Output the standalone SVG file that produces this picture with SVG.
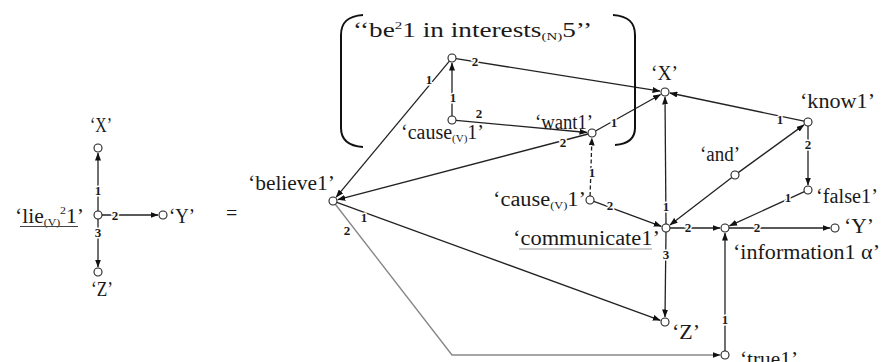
<svg xmlns="http://www.w3.org/2000/svg" width="892" height="362" viewBox="0 0 892 362">
<style>
text{font-family:"Liberation Serif","Times New Roman",serif;fill:#1a1a1a}
.t{font-size:20px}
.lb{font-size:13px;font-weight:bold;stroke:#fff;stroke-width:3px;paint-order:stroke;text-anchor:middle}
.e{stroke:#222;stroke-width:1.3;fill:none;marker-end:url(#ah)}
.g{stroke:#888;stroke-width:1.4;fill:none;marker-end:url(#ah)}
.n{fill:#fff;stroke:#222;stroke-width:1.1}
.br{fill:none;stroke:#111;stroke-width:2}
.sub{font-size:11px}
</style>
<defs>
<marker id="ah" markerUnits="userSpaceOnUse" markerWidth="8" markerHeight="6" refX="7.5" refY="3" orient="auto"><path d="M0,0 L8,3 L0,6 z" fill="#111"/></marker>
</defs>
<rect width="892" height="362" fill="#fff"/>

<g id="connectors">
<line class="e" x1="98" y1="211" x2="98" y2="153"/>
<line class="e" x1="102" y1="215" x2="158" y2="215"/>
<line class="e" x1="98" y1="219" x2="98" y2="267"/>

<line class="e" x1="456" y1="58.6" x2="660" y2="91.2"/>
<line class="e" x1="449.4" y1="61.1" x2="336.2" y2="197.2"/>
<line class="e" x1="452" y1="116" x2="452" y2="63"/>
<line class="e" x1="456" y1="120.4" x2="587" y2="132.5"/>
<line class="e" x1="595.5" y1="131" x2="660.6" y2="94.5"/>
<line class="e" x1="588.1" y1="134" x2="337.8" y2="199.7"/>
<line class="e" x1="590.1" y1="196" x2="591.9" y2="138" stroke-dasharray="4 2.5"/>
<line class="e" x1="593.8" y1="201.4" x2="661.3" y2="226.3"/>
<line class="e" x1="666" y1="224" x2="665" y2="97"/>
<line class="e" x1="804.1" y1="121.2" x2="669.9" y2="93"/>
<line class="e" x1="738.2" y1="172.6" x2="804" y2="124.9"/>
<line class="e" x1="731.8" y1="177.4" x2="670" y2="224.9"/>
<line class="e" x1="808" y1="126" x2="808" y2="185"/>
<line class="e" x1="804.4" y1="191.7" x2="729.5" y2="225.9"/>
<line class="e" x1="670" y1="228" x2="720" y2="228"/>
<line class="e" x1="729" y1="228" x2="830" y2="228"/>
<line class="e" x1="725" y1="351" x2="725" y2="233"/>
<line class="e" x1="666" y1="232" x2="665" y2="317"/>
<line class="e" x1="336.8" y1="202.4" x2="660.3" y2="320.3"/>
<polyline class="g" points="335.5,204.5 452,355 720,355"/>

<path class="br" d="M363,15 C348,16 341,22 341,35 L341,128 C341,140 348,146 363,147"/>
<path class="br" d="M613,15 C628,16 635,22 635,35 L635,128 C635,139 628,144 615,145"/>

<text class="lb" x="98" y="195">1</text>
<text class="lb" x="115" y="220">2</text>
<text class="lb" x="98" y="237">3</text>

<text class="lb" x="475" y="66">2</text>
<text class="lb" x="429" y="84">1</text>
<text class="lb" x="453" y="102">1</text>
<text class="lb" x="479" y="118">2</text>
<text class="lb" x="563" y="147">2</text>
<text class="lb" x="614" y="127">1</text>
<text class="lb" x="592" y="177">1</text>
<text class="lb" x="610" y="210">2</text>
<text class="lb" x="666" y="211">1</text>
<text class="lb" x="688" y="232">2</text>
<text class="lb" x="666" y="259">3</text>
<text class="lb" x="780" y="124">1</text>
<text class="lb" x="808" y="149">2</text>
<text class="lb" x="788" y="202">1</text>
<text class="lb" x="757" y="232">2</text>
<text class="lb" x="725" y="324">1</text>
<text class="lb" x="364" y="222">1</text>
<text class="lb" x="347" y="235">2</text>
</g>

<g id="n-lie"><circle class="n" cx="98" cy="215" r="4"/>
<text class="t" x="15" y="223" textLength="69" lengthAdjust="spacingAndGlyphs">‘lie<tspan class="sub" dy="3">(V)</tspan><tspan class="sub" dy="-12">2</tspan><tspan dy="9">1’</tspan></text>
<line x1="20" y1="226.5" x2="78" y2="226.5" stroke="#444" stroke-width="1"/></g>
<g id="n-lx"><circle class="n" cx="98" cy="148" r="4"/><text class="t" x="90" y="132" textLength="22" lengthAdjust="spacingAndGlyphs">‘X’</text></g>
<g id="n-ly"><circle class="n" cx="163" cy="215" r="4"/><text class="t" x="169" y="223" textLength="26" lengthAdjust="spacingAndGlyphs">‘Y’</text></g>
<g id="n-lz"><circle class="n" cx="98" cy="272" r="4"/><text class="t" x="91" y="296" textLength="22" lengthAdjust="spacingAndGlyphs">‘Z’</text></g>
<text class="t" x="226" y="220" font-size="18">=</text>

<g id="n-be"><circle class="n" cx="452" cy="58" r="4"/>
<text class="t" x="353" y="37" textLength="239" lengthAdjust="spacingAndGlyphs">‘‘be<tspan class="sub" dy="-8">2</tspan><tspan dy="8">1 in interests</tspan><tspan class="sub" dy="3">(N)</tspan><tspan dy="-3">5’’</tspan></text></g>
<g id="n-cause2"><circle class="n" cx="452" cy="120" r="4"/>
<text class="t" x="401" y="139" font-size="16">‘cause<tspan class="sub" dy="3">(V)</tspan><tspan dy="-3">1’</tspan></text></g>
<g id="n-want"><circle class="n" cx="592" cy="133" r="4"/>
<text class="t" x="535" y="129" textLength="58" lengthAdjust="spacingAndGlyphs">‘want1’</text></g>
<g id="n-x"><circle class="n" cx="665" cy="92" r="4"/>
<text class="t" x="651" y="80" textLength="27" lengthAdjust="spacingAndGlyphs">‘X’</text></g>
<g id="n-know"><circle class="n" cx="808" cy="122" r="4"/>
<text class="t" x="800" y="108" textLength="75" lengthAdjust="spacingAndGlyphs">‘know1’</text></g>
<g id="n-and"><circle class="n" cx="735" cy="175" r="4"/>
<text class="t" x="700" y="161" textLength="40" lengthAdjust="spacingAndGlyphs">‘and’</text></g>
<g id="n-believe"><circle class="n" cx="333" cy="201" r="4"/>
<text class="t" x="248" y="190" textLength="87" lengthAdjust="spacingAndGlyphs">‘believe1’</text></g>
<g id="n-cause1"><circle class="n" cx="590" cy="200" r="4"/>
<text class="t" x="493" y="206" textLength="93" lengthAdjust="spacingAndGlyphs">‘cause<tspan class="sub" dy="3">(V)</tspan><tspan dy="-3">1’</tspan></text></g>
<g id="n-communicate"><circle class="n" cx="666" cy="228" r="4"/>
<text class="t" x="513" y="245" textLength="147" lengthAdjust="spacingAndGlyphs">‘communicate1’</text>
<line x1="519" y1="249" x2="652" y2="249" stroke="#999" stroke-width="1"/></g>
<g id="n-false"><circle class="n" cx="808" cy="190" r="4"/>
<text class="t" x="816" y="203" textLength="62" lengthAdjust="spacingAndGlyphs">‘false1’</text></g>
<g id="n-info"><circle class="n" cx="725" cy="228" r="4"/>
<text class="t" x="733" y="259" textLength="147" lengthAdjust="spacingAndGlyphs">‘information1 α’</text></g>
<g id="n-y"><circle class="n" cx="835" cy="228" r="4"/>
<text class="t" x="844" y="233" textLength="30" lengthAdjust="spacingAndGlyphs">‘Y’</text></g>
<g id="n-z"><circle class="n" cx="665" cy="322" r="4"/>
<text class="t" x="672" y="339" textLength="28" lengthAdjust="spacingAndGlyphs">‘Z’</text></g>
<g id="n-true"><circle class="n" cx="725" cy="355" r="4"/>
<text class="t" x="740" y="366" textLength="58" lengthAdjust="spacingAndGlyphs">‘true1’</text></g>
</svg>
